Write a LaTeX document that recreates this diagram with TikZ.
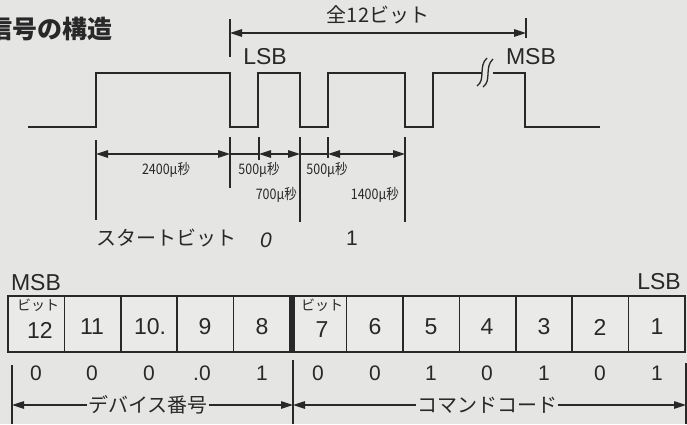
\documentclass[tikz,border=0pt]{standalone}
\usepackage{fontspec}
\setmainfont{Liberation Sans}
\newfontfamily\jp{Noto Sans CJK JP}
\usetikzlibrary{arrows.meta}
\definecolor{bgc}{RGB}{229,229,227}
\definecolor{ink}{RGB}{40,40,40}
\definecolor{cellc}{RGB}{234,234,232}
\tikzset{
  wave/.style={draw=ink,line width=2pt,line join=miter},
  tick/.style={draw=ink,line width=1.3pt},
  dimline/.style={draw=ink,line width=1.2pt},
  dimarr/.style={draw=ink,line width=1.2pt,{Triangle[length=12pt,width=7.5pt]}-{Triangle[length=12pt,width=7.5pt]}},
  jplab/.style={text=ink,font=\jp\fontsize{20}{20}\selectfont,inner sep=0pt},
  smalllab/.style={text=ink,font=\jp\fontsize{14.5}{14.5}\selectfont,inner sep=0pt,xscale=0.86},
  sblab/.style={text=ink,font=\fontsize{23}{23}\selectfont,inner sep=0pt},
  cellnum/.style={text=ink,font=\fontsize{23}{23}\selectfont,inner sep=0pt},
  valnum/.style={text=ink,font=\fontsize{21}{21}\selectfont,inner sep=0pt},
  bitlab/.style={text=ink,font=\jp\fontsize{14}{14}\selectfont,inner sep=0pt},
  cell/.style={draw=ink,line width=1.6pt,fill=cellc},
}
\begin{document}
\begin{tikzpicture}[x=1pt,y=-1pt]
\fill[bgc] (0,0) rectangle (687,424);
\useasboundingbox (0,0) rectangle (687,424);

% title
\node[anchor=west,text=ink,font=\jp\bfseries\fontsize{25}{25}\selectfont,inner sep=0pt] (title) at (-13,29) {信号の構造};

% waveform
\draw[wave] (28,127) -- (96,127) -- (96,73) -- (230,73) -- (230,127) -- (258,127) -- (258,73) -- (300,73) -- (300,127) -- (328,127) -- (328,73) -- (405,73) -- (405,127) -- (433,127) -- (433,73) -- (482,73);
\draw[wave] (493,73) -- (525,73) -- (525,127) -- (600,127);
\draw[ink,line width=1.3pt] (477,86) .. controls (486,80) and (478,66) .. (487,58);
\draw[ink,line width=1.3pt] (483,87) .. controls (492,81) and (484,67) .. (493,59);

% total 12 bits
\coordinate (tl) at (230,33);
\coordinate (tr) at (526,33);
\draw[tick] (230,19) -- (230,57);
\draw[tick] (526,18) -- (526,38);
\draw[dimarr] (tl) -- (tr);
\node[jplab] (all) at (378,15) {全12ビット};
\node[sblab] (lsbt) at (265,57) {LSB};
\node[sblab] (msbt) at (531,57) {MSB};

% timing dimensions
\draw[tick] (96,140) -- (96,220);
\draw[tick] (230,137) -- (230,188);
\draw[tick] (259,137) -- (259,160);
\draw[tick] (300,137) -- (300,222);
\draw[tick] (328,137) -- (328,158);
\draw[tick] (405,137) -- (405,222);
\coordinate (d0) at (96,154);
\coordinate (d1) at (230,154);
\coordinate (d2) at (259,154);
\coordinate (d3) at (300,154);
\coordinate (d4) at (328,154);
\coordinate (d5) at (405,154);
\draw[dimarr] (d0) -- (d1);
\draw[dimline] (d1) -- (d2);
\draw[dimarr] (d2) -- (d3);
\draw[dimline] (d3) -- (d4);
\draw[dimarr] (d4) -- (d5);
\node[smalllab] (t2400) at (166,170) {2400\textit{μ}秒};
\node[smalllab] (t500a) at (259,170) {500\textit{μ}秒};
\node[smalllab,anchor=east] (t700) at (297,195) {700\textit{μ}秒};
\node[smalllab] (t500b) at (327,170) {500\textit{μ}秒};
\node[smalllab,anchor=east] (t1400) at (399,195) {1400\textit{μ}秒};

\node[jplab] (start) at (166,238) {スタートビット};
\node[valnum,font=\itshape\fontsize{21}{21}\selectfont] (b0) at (266,240) {0};
\node[valnum] (b1) at (352,238) {1};

% register
\node[sblab] (msb) at (36,283) {MSB};
\node[sblab] (lsb) at (659,282) {LSB};
\foreach \i in {0,...,11} {
  \draw[cell] ({8+\i*56.42},296) rectangle ({8+(\i+1)*56.42},352);
}
\fill[ink] (288.5,296) rectangle (294.5,352);
\node[bitlab] (bit12) at (38,305) {ビット};
\node[cellnum] (c12) at (40,330) {12};
\node[cellnum] (c11) at (92,327) {11};
\node[cellnum] (c10) at (150,327) {10.};
\node[cellnum] (c9) at (205,327) {9};
\node[cellnum] (c8) at (262,327) {8};
\node[bitlab] (bit7) at (322,305) {ビット};
\node[cellnum] (c7) at (322,330) {7};
\node[cellnum] (c6) at (375,327) {6};
\node[cellnum] (c5) at (431,327) {5};
\node[cellnum] (c4) at (487,327) {4};
\node[cellnum] (c3) at (544,327) {3};
\node[cellnum] (c2) at (600,327) {2};
\node[cellnum] (c1) at (657,327) {1};

% values
\node[valnum] (v12) at (36,373) {0};
\node[valnum] (v11) at (92,373) {0};
\node[valnum] (v10) at (149,373) {0};
\node[valnum] (v9) at (202,373) {.0};
\node[valnum] (v8) at (262,373) {1};
\node[valnum] (v7) at (318,373) {0};
\node[valnum] (v6) at (375,373) {0};
\node[valnum] (v5) at (431,373) {1};
\node[valnum] (v4) at (487,373) {0};
\node[valnum] (v3) at (544,373) {1};
\node[valnum] (v2) at (600,373) {0};
\node[valnum] (v1) at (657,373) {1};

% groups
\draw[tick] (12,365) -- (12,424);
\draw[tick] (293,360) -- (293,424);
\draw[tick] (686,363) -- (686,424);
\coordinate (g0) at (12,405);
\coordinate (g1) at (293,405);
\coordinate (g2) at (686,405);
\draw[dimarr] (g0) -- (g1);
\draw[dimarr] (g1) -- (g2);
\node[jplab,fill=bgc,inner xsep=1pt] (dev) at (148,405) {デバイス番号};
\node[jplab,fill=bgc,inner xsep=1pt] (cmd) at (487,405) {コマンドコード};
\end{tikzpicture}
\end{document}
